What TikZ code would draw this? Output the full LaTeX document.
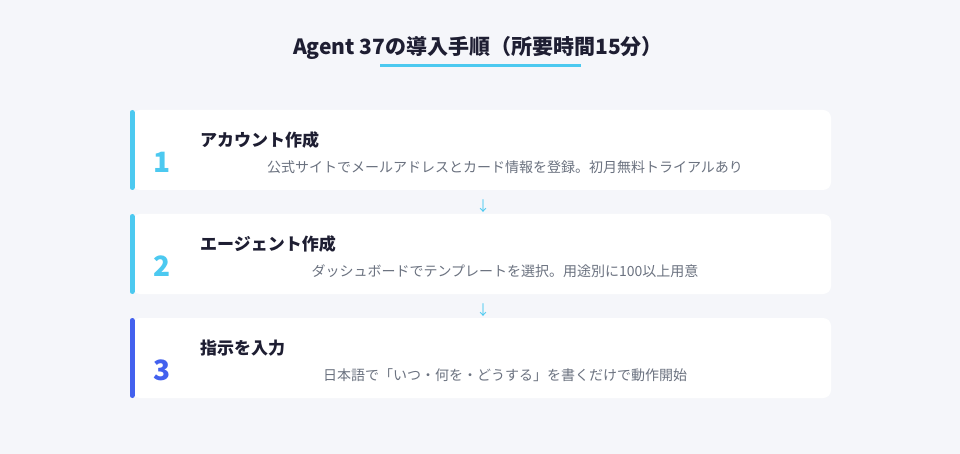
\documentclass[tikz,border=0pt]{standalone}
\usepackage{fontspec}
\setmainfont{Noto Sans CJK JP}
\definecolor{pagebg}{HTML}{F5F6FA}
\definecolor{sky}{HTML}{4CC9F0}
\definecolor{royal}{HTML}{4361EE}
\definecolor{ink}{HTML}{1E1E32}
\definecolor{muted}{HTML}{6B7280}
\tikzset{
  card/.style={fill=white, rounded corners=8pt, minimum width=699, minimum height=80, inner sep=0},
  bar/.style={line width=5pt, line cap=round},
  stepnum/.style={font=\bfseries\fontsize{28}{32}\selectfont},
  steptitle/.style={anchor=west, text=ink, font=\bfseries\fontsize{17}{20}\selectfont, inner sep=0},
  stepdesc/.style={text=muted, font=\fontsize{14}{17}\selectfont, inner sep=0},
  downarrow/.style={text=sky, font=\fontsize{14}{17}\selectfont, inner sep=0}
}
\begin{document}
\begin{tikzpicture}[x=1pt,y=-1pt]
\fill[pagebg] (0,0) rectangle (960,454);
\useasboundingbox (0,0) rectangle (960,454);
% title
\node[text=ink, font=\bfseries\fontsize{21}{25}\selectfont] (title) at (478,48) {Agent 37の導入手順（所要時間15分）};
\draw[sky, line width=3pt] (380,66) -- (581,66);
% step 1
\node[card] (card1) at (481.5,150) {};
\draw[sky, bar] (132,112.5) -- (132,187.5);
\node[stepnum, text=sky] (num1) at (162,162) {1};
\node[steptitle] (title1) at (200,140) {アカウント作成};
\node[stepdesc] (desc1) at (505,167) {公式サイトでメールアドレスとカード情報を登録。初月無料トライアルあり};
% step 2
\node[card] (card2) at (481.5,254) {};
\draw[sky, bar] (132,216.5) -- (132,291.5);
\node[stepnum, text=sky] (num2) at (162,266) {2};
\node[steptitle] (title2) at (200,244) {エージェント作成};
\node[stepdesc] (desc2) at (505,271) {ダッシュボードでテンプレートを選択。用途別に100以上用意};
% step 3
\node[card] (card3) at (481.5,358) {};
\draw[royal, bar] (132,320.5) -- (132,395.5);
\node[stepnum, text=royal] (num3) at (162,370) {3};
\node[steptitle] (title3) at (200,348) {指示を入力};
\node[stepdesc] (desc3) at (505,375) {日本語で「いつ・何を・どうする」を書くだけで動作開始};
% arrows between steps
\node[downarrow] (arr12) at (483,206) {↓};
\node[downarrow] (arr23) at (483,310) {↓};
\end{tikzpicture}
\end{document}
